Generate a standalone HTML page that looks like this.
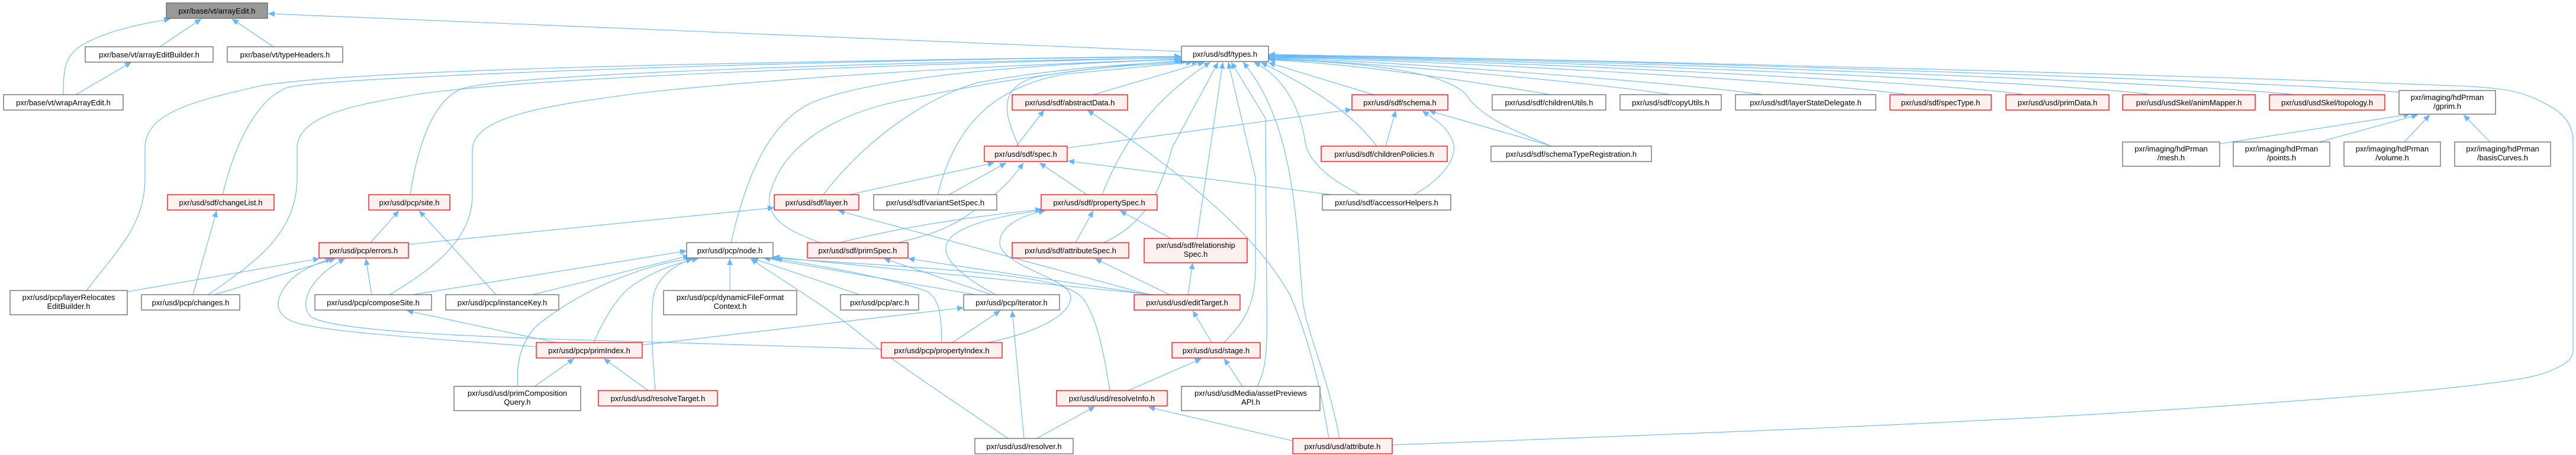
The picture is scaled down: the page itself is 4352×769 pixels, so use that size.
<!DOCTYPE html>
<html><head><meta charset="utf-8"><style>
html,body{margin:0;padding:0;background:#fff;}
svg{display:block;}
text{font-family:"Liberation Sans",sans-serif;font-size:13px;fill:#000;}
.e{fill:none;stroke:#63b8ff;stroke-width:1.1;marker-end:url(#a);}
.n{fill:#fff;stroke:#666;stroke-width:1.3;}
.r{fill:#fff0f0;stroke:#f00;stroke-width:1.3;}
.g{fill:#999;stroke:#666;stroke-width:1.3;}
</style></head><body>
<svg width="4352" height="769" viewBox="0 0 4352 769" xmlns="http://www.w3.org/2000/svg">
<defs><marker id="a" markerWidth="12" markerHeight="10" refX="11" refY="5" orient="auto" markerUnits="userSpaceOnUse"><path d="M0,0 L11,5 L0,10 z" fill="#63b8ff"/></marker></defs>
<g>
<path class="e" d="M270,79 L340,32"/>
<path class="e" d="M462,79 L392,32"/>
<path class="e" d="M107,160 C107,110 110,90 150,70 C190,50 240,40 288,32"/>
<path class="e" d="M128,160 L222,105"/>
<path class="e" d="M1996,87 L453,23"/>
<path class="e" d="M146,491 C200,420 245,380 245,300 L245,250 C245,190 330,170 440,145 C600,118 1200,105 1995,95"/>
<path class="e" d="M376,329 C395,250 430,170 485,148 C540,130 1400,100 1995,96"/>
<path class="e" d="M352,498 C420,450 502,400 502,300 L502,250 C502,190 620,175 700,160 C900,130 1500,110 1995,97"/>
<path class="e" d="M693,329 C705,250 730,170 780,150 C850,125 1500,105 1995,98"/>
<path class="e" d="M658,498 C740,450 798,400 798,330 L798,255 C798,200 900,180 1100,155 C1400,125 1700,110 1995,100"/>
<path class="e" d="M1235,410 C1260,300 1300,200 1380,170 C1500,125 1800,105 1995,101"/>
<path class="e" d="M1386,410 C1330,390 1295,370 1300,330 C1320,250 1400,200 1500,175 C1700,130 1900,108 1998,103"/>
<path class="e" d="M1391,329 C1450,250 1550,170 1650,140 C1800,112 1950,106 2005,104"/>
<path class="e" d="M1584,329 C1610,230 1660,150 1800,125 L2015,105"/>
<path class="e" d="M1721,247 C1700,200 1680,150 1750,130 C1850,112 1950,108 2025,105"/>
<path class="e" d="M1847,160 L2035,105"/>
<path class="e" d="M1862,329 C1900,230 1960,160 2045,105"/>
<path class="e" d="M1865,410 C1930,380 1960,330 1980,250 L2058,105"/>
<path class="e" d="M2022,403 L2066,105"/>
<path class="e" d="M2068,579 C2100,545 2121,520 2121,450 L2121,300 L2075,105"/>
<path class="e" d="M2124,653 C2138,625 2142,600 2140,500 L2138,200 L2080,105"/>
<path class="e" d="M2263,741 C2240,620 2205,560 2200,500 C2190,350 2180,200 2100,105"/>
<path class="e" d="M2298,329 C2240,300 2210,270 2205,240 C2195,170 2160,125 2118,105"/>
<path class="e" d="M2326,247 C2290,200 2240,160 2130,105"/>
<path class="e" d="M2321,160 L2143,106"/>
<path class="e" d="M2621,247 C2560,222 2500,197 2477,160 C2440,120 2300,105 2143,100"/>
<path class="e" d="M2620,160 C2500,140 2300,108 2143,101"/>
<path class="e" d="M2823,160 C2700,140 2300,104 2143,99"/>
<path class="e" d="M2978,160 C2850,140 2300,100 2143,98"/>
<path class="e" d="M3222,160 C3100,140 2400,100 2143,97"/>
<path class="e" d="M3421,160 C3300,140 2500,100 2143,96"/>
<path class="e" d="M3634,160 C3500,140 2600,100 2143,95"/>
<path class="e" d="M3875,160 C3700,140 2700,100 2143,94"/>
<path class="e" d="M4053,156 C3900,140 2700,98 2143,93"/>
<path class="e" d="M2352,752 C2800,735 3300,717 3700,690 C4000,670 4250,650 4300,630 C4340,615 4347,605 4347,590 L4347,240 C4347,200 4320,185 4290,170 C4260,155 4230,148 4150,145 C3500,120 2600,100 2143,92"/>
<path class="e" d="M3750,243 L4072,193"/>
<path class="e" d="M3918,240 L4085,194"/>
<path class="e" d="M4062,240 L4105,194"/>
<path class="e" d="M4207,240 L4162,194"/>
<path class="e" d="M1717,247 L1764,186"/>
<path class="e" d="M2245,741 C2230,650 2210,570 2180,500 C2120,390 1980,280 1837,186"/>
<path class="e" d="M1435,329 L1680,275"/>
<path class="e" d="M1603,329 L1700,275"/>
<path class="e" d="M1836,329 L1756,275"/>
<path class="e" d="M1517,410 C1560,400 1600,389 1640,360 C1690,325 1712,300 1729,275"/>
<path class="e" d="M2250,329 L1804,272"/>
<path class="e" d="M1803,250 L2284,185"/>
<path class="e" d="M2341,247 L2358,187"/>
<path class="e" d="M2389,329 C2440,300 2470,260 2450,230 C2440,210 2420,200 2403,187"/>
<path class="e" d="M2622,247 L2414,187"/>
<path class="e" d="M690,413 L1308,351"/>
<path class="e" d="M1817,410 L1847,356"/>
<path class="e" d="M1978,403 L1892,356"/>
<path class="e" d="M1418,410 C1500,390 1600,370 1760,354"/>
<path class="e" d="M1682,498 C1630,470 1598,443 1598,420 C1598,395 1640,370 1766,355"/>
<path class="e" d="M1668,579 C1760,560 1809,530 1809,502 C1809,470 1689,450 1689,410 C1689,385 1720,365 1766,356"/>
<path class="e" d="M1942,498 L1416,356"/>
<path class="e" d="M1945,498 L1534,437"/>
<path class="e" d="M1976,498 L1850,437"/>
<path class="e" d="M2007,498 L2015,444"/>
<path class="e" d="M1950,498 L1306,434"/>
<path class="e" d="M2047,579 L2015,525"/>
<path class="e" d="M1906,660 L2030,606"/>
<path class="e" d="M2099,653 L2068,606"/>
<path class="e" d="M1751,741 L1850,687"/>
<path class="e" d="M2184,745 L1940,688"/>
<path class="e" d="M1730,741 L1710,525"/>
<path class="e" d="M1703,741 C1600,670 1521,620 1460,570 C1400,520 1330,480 1268,437"/>
<path class="e" d="M1648,498 L1290,436"/>
<path class="e" d="M1452,498 L1270,436"/>
<path class="e" d="M1233,491 L1233,437"/>
<path class="e" d="M1591,579 C1590,540 1590,500 1560,490 C1480,465 1380,448 1310,437"/>
<path class="e" d="M1875,660 C1865,600 1855,540 1830,505 C1800,470 1700,460 1303,436"/>
<path class="e" d="M1609,579 L1690,525"/>
<path class="e" d="M1675,498 L1493,437"/>
<path class="e" d="M1085,583 L1628,520"/>
<path class="e" d="M1489,590 L1100,578 C800,570 560,560 525,535 C505,515 520,470 583,437"/>
<path class="e" d="M905,586 C700,570 530,560 491,542 C466,530 460,507 491,473 C510,455 535,445 561,437"/>
<path class="e" d="M628,498 L618,437"/>
<path class="e" d="M362,498 L567,437"/>
<path class="e" d="M215,493 L540,437"/>
<path class="e" d="M940,579 L687,525"/>
<path class="e" d="M838,498 L708,356"/>
<path class="e" d="M626,410 L674,356"/>
<path class="e" d="M326,498 L366,356"/>
<path class="e" d="M697,498 L1160,424"/>
<path class="e" d="M900,498 L1165,432"/>
<path class="e" d="M875,653 C870,600 890,560 920,540 C1000,480 1100,445 1170,437"/>
<path class="e" d="M1003,579 C1020,540 1040,505 1065,485 C1100,460 1140,445 1180,437"/>
<path class="e" d="M1107,660 C1102,600 1098,530 1105,495 C1115,465 1140,448 1170,437"/>
<path class="e" d="M903,653 L970,606"/>
<path class="e" d="M1095,660 L1020,606"/>
</g>
<g>
<rect class="g" x="281" y="5" width="171" height="26"/><text x="366.5" y="23" text-anchor="middle">pxr/base/vt/arrayEdit.h</text>
<rect class="n" x="144" y="79" width="216" height="26"/><text x="252" y="97" text-anchor="middle">pxr/base/vt/arrayEditBuilder.h</text>
<rect class="n" x="384" y="79" width="195" height="26"/><text x="481.5" y="97" text-anchor="middle">pxr/base/vt/typeHeaders.h</text>
<rect class="n" x="6" y="160" width="202" height="26"/><text x="107" y="178" text-anchor="middle">pxr/base/vt/wrapArrayEdit.h</text>
<rect class="n" x="1996" y="78" width="147" height="26"/><text x="2069.5" y="96" text-anchor="middle">pxr/usd/sdf/types.h</text>
<rect class="r" x="283" y="329" width="180" height="26"/><text x="373" y="347" text-anchor="middle">pxr/usd/sdf/changeList.h</text>
<rect class="r" x="623" y="329" width="137" height="26"/><text x="691.5" y="347" text-anchor="middle">pxr/usd/pcp/site.h</text>
<rect class="r" x="539" y="410" width="151" height="26"/><text x="614.5" y="428" text-anchor="middle">pxr/usd/pcp/errors.h</text>
<rect class="n" x="17" y="491" width="198" height="41"/><text x="116" y="507" text-anchor="middle">pxr/usd/pcp/layerRelocates</text><text x="116" y="522" text-anchor="middle">EditBuilder.h</text>
<rect class="n" x="239" y="498" width="166" height="26"/><text x="322" y="516" text-anchor="middle">pxr/usd/pcp/changes.h</text>
<rect class="n" x="532" y="498" width="197" height="26"/><text x="630.5" y="516" text-anchor="middle">pxr/usd/pcp/composeSite.h</text>
<rect class="n" x="753" y="498" width="191" height="26"/><text x="848.5" y="516" text-anchor="middle">pxr/usd/pcp/instanceKey.h</text>
<rect class="r" x="906" y="579" width="179" height="26"/><text x="995.5" y="597" text-anchor="middle">pxr/usd/pcp/primIndex.h</text>
<rect class="n" x="767" y="653" width="214" height="41"/><text x="874" y="669" text-anchor="middle">pxr/usd/usd/primComposition</text><text x="874" y="684" text-anchor="middle">Query.h</text>
<rect class="r" x="1011" y="660" width="201" height="26"/><text x="1111.5" y="678" text-anchor="middle">pxr/usd/usd/resolveTarget.h</text>
<rect class="r" x="1710" y="160" width="195" height="26"/><text x="1807.5" y="178" text-anchor="middle">pxr/usd/sdf/abstractData.h</text>
<rect class="r" x="1663" y="247" width="140" height="26"/><text x="1733" y="265" text-anchor="middle">pxr/usd/sdf/spec.h</text>
<rect class="r" x="1308" y="329" width="143" height="26"/><text x="1379.5" y="347" text-anchor="middle">pxr/usd/sdf/layer.h</text>
<rect class="n" x="1476" y="329" width="208" height="26"/><text x="1580" y="347" text-anchor="middle">pxr/usd/sdf/variantSetSpec.h</text>
<rect class="r" x="1759" y="329" width="196" height="26"/><text x="1857" y="347" text-anchor="middle">pxr/usd/sdf/propertySpec.h</text>
<rect class="n" x="1160" y="410" width="146" height="26"/><text x="1233" y="428" text-anchor="middle">pxr/usd/pcp/node.h</text>
<rect class="r" x="1364" y="410" width="170" height="26"/><text x="1449" y="428" text-anchor="middle">pxr/usd/sdf/primSpec.h</text>
<rect class="r" x="1710" y="410" width="197" height="26"/><text x="1808.5" y="428" text-anchor="middle">pxr/usd/sdf/attributeSpec.h</text>
<rect class="r" x="1933" y="403" width="174" height="41"/><text x="2020" y="419" text-anchor="middle">pxr/usd/sdf/relationship</text><text x="2020" y="434" text-anchor="middle">Spec.h</text>
<rect class="n" x="1121" y="491" width="225" height="41"/><text x="1233.5" y="507" text-anchor="middle">pxr/usd/pcp/dynamicFileFormat</text><text x="1233.5" y="522" text-anchor="middle">Context.h</text>
<rect class="n" x="1420" y="498" width="132" height="26"/><text x="1486" y="516" text-anchor="middle">pxr/usd/pcp/arc.h</text>
<rect class="n" x="1628" y="498" width="162" height="26"/><text x="1709" y="516" text-anchor="middle">pxr/usd/pcp/iterator.h</text>
<rect class="r" x="1916" y="498" width="179" height="26"/><text x="2005.5" y="516" text-anchor="middle">pxr/usd/usd/editTarget.h</text>
<rect class="r" x="1489" y="579" width="204" height="26"/><text x="1591" y="597" text-anchor="middle">pxr/usd/pcp/propertyIndex.h</text>
<rect class="r" x="1980" y="579" width="149" height="26"/><text x="2054.5" y="597" text-anchor="middle">pxr/usd/usd/stage.h</text>
<rect class="r" x="1785" y="660" width="187" height="26"/><text x="1878.5" y="678" text-anchor="middle">pxr/usd/usd/resolveInfo.h</text>
<rect class="n" x="1996" y="653" width="234" height="41"/><text x="2113" y="669" text-anchor="middle">pxr/usd/usdMedia/assetPreviews</text><text x="2113" y="684" text-anchor="middle">API.h</text>
<rect class="n" x="1647" y="741" width="166" height="26"/><text x="1730" y="759" text-anchor="middle">pxr/usd/usd/resolver.h</text>
<rect class="r" x="2184" y="741" width="168" height="26"/><text x="2268" y="759" text-anchor="middle">pxr/usd/usd/attribute.h</text>
<rect class="r" x="2284" y="160" width="162" height="26"/><text x="2365" y="178" text-anchor="middle">pxr/usd/sdf/schema.h</text>
<rect class="n" x="2521" y="160" width="192" height="26"/><text x="2617" y="178" text-anchor="middle">pxr/usd/sdf/childrenUtils.h</text>
<rect class="n" x="2737" y="160" width="171" height="26"/><text x="2822.5" y="178" text-anchor="middle">pxr/usd/sdf/copyUtils.h</text>
<rect class="n" x="2932" y="160" width="237" height="26"/><text x="3050.5" y="178" text-anchor="middle">pxr/usd/sdf/layerStateDelegate.h</text>
<rect class="r" x="3193" y="160" width="171" height="26"/><text x="3278.5" y="178" text-anchor="middle">pxr/usd/sdf/specType.h</text>
<rect class="r" x="3389" y="160" width="174" height="26"/><text x="3476" y="178" text-anchor="middle">pxr/usd/usd/primData.h</text>
<rect class="r" x="3586" y="160" width="224" height="26"/><text x="3698" y="178" text-anchor="middle">pxr/usd/usdSkel/animMapper.h</text>
<rect class="r" x="3834" y="160" width="195" height="26"/><text x="3931.5" y="178" text-anchor="middle">pxr/usd/usdSkel/topology.h</text>
<rect class="n" x="4053" y="153" width="163" height="40"/><text x="4134.5" y="169" text-anchor="middle">pxr/imaging/hdPrman</text><text x="4134.5" y="184" text-anchor="middle">/gprim.h</text>
<rect class="n" x="3586" y="240" width="164" height="41"/><text x="3668" y="256" text-anchor="middle">pxr/imaging/hdPrman</text><text x="3668" y="271" text-anchor="middle">/mesh.h</text>
<rect class="n" x="3773" y="240" width="163" height="41"/><text x="3854.5" y="256" text-anchor="middle">pxr/imaging/hdPrman</text><text x="3854.5" y="271" text-anchor="middle">/points.h</text>
<rect class="n" x="3960" y="240" width="163" height="41"/><text x="4041.5" y="256" text-anchor="middle">pxr/imaging/hdPrman</text><text x="4041.5" y="271" text-anchor="middle">/volume.h</text>
<rect class="n" x="4147" y="240" width="162" height="41"/><text x="4228" y="256" text-anchor="middle">pxr/imaging/hdPrman</text><text x="4228" y="271" text-anchor="middle">/basisCurves.h</text>
<rect class="r" x="2232" y="247" width="213" height="26"/><text x="2338.5" y="265" text-anchor="middle">pxr/usd/sdf/childrenPolicies.h</text>
<rect class="n" x="2519" y="247" width="271" height="26"/><text x="2654.5" y="265" text-anchor="middle">pxr/usd/sdf/schemaTypeRegistration.h</text>
<rect class="n" x="2234" y="329" width="217" height="26"/><text x="2342.5" y="347" text-anchor="middle">pxr/usd/sdf/accessorHelpers.h</text>
</g>
</svg>
</body></html>
